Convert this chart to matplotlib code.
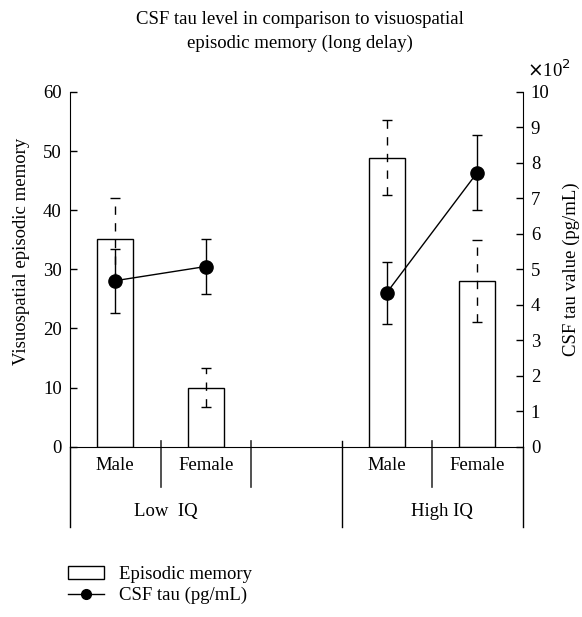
import numpy as np
import matplotlib.pyplot as plt
from matplotlib.patches import Patch
from matplotlib.lines import Line2D

plt.rcParams['font.family'] = ['Liberation Serif', 'DejaVu Serif']
plt.rcParams['font.size'] = 13.5
FS = 13.5

##### dane
groups = ["Low  IQ", "High IQ"]
sexes = ["Male", "Female", "Male", "Female"]
xpos = [0, 1, 3, 4]

memory = [35.1, 10.0, 48.9, 28.0]
memory_err = [7.0, 3.3, 6.4, 6.9]

tau = [4.68, 5.08, 4.34, 7.73]          # x10^2 pg/mL
tau_err = [0.90, 0.77, 0.87, 1.07]

fig = plt.figure(figsize=(5.82, 6.17), dpi=100)
ax = fig.add_axes([70 / 582, 1 - 446.7 / 617, 452.5 / 582, 354.7 / 617])
ax2 = ax.twinx()

##### slupki (pamiec epizodyczna)
ax.bar(xpos, memory, width=0.40, color="white", edgecolor="black", linewidth=1.0, zorder=2)
eb = ax.errorbar(xpos, memory, yerr=memory_err, fmt="none", ecolor="black",
                 elinewidth=1.0, capsize=3.3, capthick=1.0, zorder=3)
eb[2][0].set_linestyle((0, (6, 6)))

##### CSF tau
for idx in ([0, 1], [2, 3]):
    xs = [xpos[i] for i in idx]
    ys = [tau[i] for i in idx]
    es = [tau_err[i] for i in idx]
    ax2.errorbar(xs, ys, yerr=es, fmt="-o", color="black", markersize=9.5,
                 linewidth=1.0, elinewidth=1.0, capsize=3.3, capthick=1.0)

ax.set_xlim(-0.5, 4.5)
ax.set_ylim(0, 60)
ax2.set_ylim(0, 10)
ax.set_yticks(range(0, 61, 10))
ax2.set_yticks(range(0, 11))
ax.set_xticks([])

for a in (ax, ax2):
    a.spines["top"].set_visible(False)
    a.tick_params(axis="y", direction="in", length=5, width=1, pad=6, labelsize=FS)
ax.spines["right"].set_visible(False)
ax2.spines["left"].set_visible(False)
ax2.spines["bottom"].set_visible(False)

ax.set_ylabel("Visuospatial episodic memory", fontsize=FS)
ax.yaxis.set_label_coords(-0.088, 0.55)
ax2.set_ylabel("CSF tau value (pg/mL)", fontsize=FS)
ax2.yaxis.set_label_coords(1.088, 0.5)

##### os x - etykiety i linie podzialu
for x, s in zip(xpos, sexes):
    ax.text(x, -3.2, s, ha="center", va="center", fontsize=FS, clip_on=False)
ax.text(0.56, -11.0, groups[0], ha="center", va="center", fontsize=FS, clip_on=False)
ax.text(3.61, -11.0, groups[1], ha="center", va="center", fontsize=FS, clip_on=False)

for x in [0.5, 1.5, 3.5]:
    ax.plot([x, x], [0.9, -6.9], color="#333333", lw=1.2, clip_on=False)
for x in [-0.5, 2.5, 4.5]:
    ax.plot([x, x], [0.9 if x == 2.5 else 0, -13.5], color="black", lw=1.0, clip_on=False)

##### tytul
fig.text(0.515, 1 - 20 / 617, "CSF tau level in comparison to visuospatial",
         ha="center", va="center", fontsize=FS)
fig.text(0.515, 1 - 43 / 617, "episodic memory (long delay)",
         ha="center", va="center", fontsize=FS)
fig.text(0.905, 1 - 70 / 617, r"$\times$10$^2$", ha="left", va="center", fontsize=FS)

##### legenda
handles = [Patch(facecolor="white", edgecolor="black", linewidth=1.0),
           Line2D([], [], color="black", marker="o", markersize=7, linewidth=1.0)]
fig.legend(handles, ["Episodic memory", "CSF tau (pg/mL)"], loc="upper left",
           bbox_to_anchor=(68 / 582, 1 - 566 / 617), frameon=False, fontsize=FS,
           handlelength=1.9, handletextpad=0.8, borderpad=0, borderaxespad=0,
           labelspacing=0.2)

plt.savefig("out.png", dpi=100)
